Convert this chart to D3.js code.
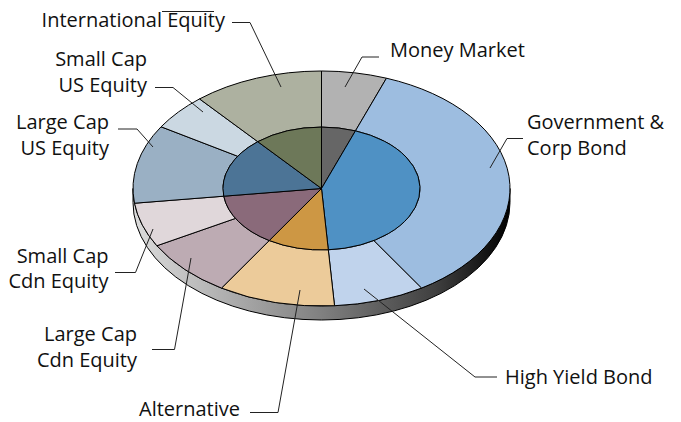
<!DOCTYPE html>
<html><head><meta charset="utf-8">
<script src="https://cdn.jsdelivr.net/npm/d3@7/dist/d3.min.js"></script>
<style>html,body{margin:0;background:#fff}svg{display:block}text{font-family:"Open Sans",sans-serif;font-size:20px;fill:#111}</style>
</head><body><svg id="c" width="681" height="422"></svg>
<script>
const categories=["Money Market","Government & Corp Bond","High Yield Bond","Alternative","Large Cap Cdn Equity","Small Cap Cdn Equity","Large Cap US Equity","Small Cap US Equity","International Equity"];
const outerValues=[5.6,35.5,7.8,10,8,6.1,10.8,5,11.2];
const outerColors=["#b2b2b2","#9dbde0","#c0d3ec","#eccb9a","#bdabb3","#e0d7da","#9ab0c4","#cbd8e2","#adb1a0"];
const groupNames=["Cash","Fixed Income","Alternative","Canadian Equity","US Equity","International"];
const groupMembers=[[0],[1,2],[3],[4,5],[6,7],[8]];
const groupColors=["#666666","#4f91c4","#cd9744","#8a6a7a","#4c7496","#6d7859"];
const labelLines=[["Money Market"],["Government &","Corp Bond"],["High Yield Bond"],["Alternative"],["Large Cap","Cdn Equity"],["Small Cap","Cdn Equity"],["Large Cap","US Equity"],["Small Cap","US Equity"],["International Equity"]];

const cx=321.5,cy=188.5,rx=188.5,ry=117.5,rInner=98.5,depth=14;
const innerValues=groupMembers.map(m=>d3.sum(m,i=>outerValues[i]));
const svg=d3.select("#c");
const defs=svg.append("defs");
const grad=defs.append("linearGradient").attr("id","wall");
[[0,"#dcdcdc"],[.5,"#808080"],[.8,"#404040"],[1,"#000000"]].forEach(s=>grad.append("stop").attr("offset",s[0]).attr("stop-color",s[1]));

svg.append("path").attr("d",`M${cx-rx},${cy}A${rx},${ry} 0 0 0 ${cx+rx},${cy}V${cy+depth}A${rx},${ry} 0 0 1 ${cx-rx},${cy+depth}Z`)
  .attr("fill","url(#wall)").attr("stroke","#000").attr("stroke-width",1);

const pie=d3.pie().sort(null).value(d=>d);
const g=svg.append("g").attr("transform",`translate(${cx},${cy}) scale(1,${ry/rx})`);
const ring=d3.arc().innerRadius(rInner).outerRadius(rx);
const disc=d3.arc().innerRadius(0).outerRadius(rInner);
g.selectAll(".o").data(pie(outerValues)).join("path").attr("class","o").attr("d",ring)
  .attr("fill",(d,i)=>outerColors[i]).attr("stroke","#000").attr("stroke-width",1).attr("vector-effect","non-scaling-stroke");
g.selectAll(".i").data(pie(innerValues)).join("path").attr("class","i").attr("d",disc)
  .attr("fill",(d,i)=>groupColors[i]).attr("stroke","#000").attr("stroke-width",1).attr("vector-effect","non-scaling-stroke");

const leaderLayout=[
 [[345,87],[362,57],[379,57]],
 [[490,168],[507,138.5],[523,138.5]],
 [[364,289],[475,377],[497,377]],
 [[300,290],[278,412.5],[250,412.5]],
 [[191,258],[174.5,349.5],[152,349.5]],
 [[153,229],[135.5,272.5],[115,272.5]],
 [[153,147],[137,129],[118,129]],
 [[203,112],[173,87.5],[155,87.5]],
 [[281,87],[250,22.5],[232,22.5]]];
const line=d3.line();
svg.selectAll(".l").data(leaderLayout).join("path").attr("class","l").attr("d",line).attr("fill","none").attr("stroke","#222").attr("stroke-width",1);
svg.append("path").attr("d",line([[162,11.5],[214,11.5]])).attr("stroke","#222").attr("fill","none");

const labelLayout=[[390,57,"start"],[527,129,"start"],[505,384,"start"],[240,416,"end"],[137,341,"end"],[108.5,262.5,"end"],[109,129,"end"],[147,66,"end"],[225,27,"end"]];
const lh=25.5;
labelLines.forEach((ls,i)=>{const [x,y,a]=labelLayout[i];
  const t=svg.append("text").attr("x",x).attr("y",y).attr("text-anchor",a);
  ls.forEach((s,j)=>t.append("tspan").attr("x",x).attr("y",y+j*lh).text(s));});
</script></body></html>
